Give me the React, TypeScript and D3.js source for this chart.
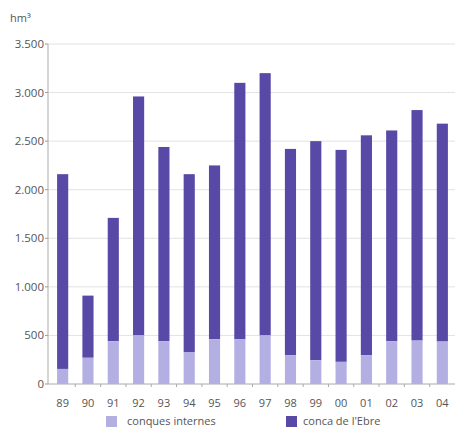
import * as d3 from "d3";

const years = ["89", "90", "91", "92", "93", "94", "95", "96", "97", "98", "99", "00", "01", "02", "03", "04"];
const internes = [155, 270, 440, 500, 440, 325, 460, 460, 500, 295, 245, 228, 295, 440, 447, 437];
const totals = [2160, 910, 1710, 2960, 2440, 2160, 2250, 3100, 3200, 2420, 2500, 2410, 2560, 2610, 2820, 2680];
const yTicks = [0, 500, 1000, 1500, 2000, 2500, 3000, 3500];

const W = 455;
const H = 435;
const LIGHT = "#b4afe3";
const DARK = "#5949a7";
const fmt = (v: number) => d3.format(",")(v).replace(/,/g, ".");

export default function App() {
  const x = d3.scaleBand<string>().domain(years).range([50, 455]).paddingInner(0.56).paddingOuter(0.28);
  const y = d3.scaleLinear().domain([0, 3500]).range([384, 44]);
  const font = "'Open Sans', 'DejaVu Sans', sans-serif";
  const step = x.step();

  return (
    <svg width={W} height={H} style={{ position: "absolute", left: 0, top: 0, background: "#fff" }} fontFamily={font}>
      <text x={10} y={22} fontSize={11} fill="#555">
        hm³
      </text>
      {yTicks.map((t) => (
        <g key={t}>
          {t > 0 && <line x1={48} x2={W} y1={y(t)} y2={y(t)} stroke="#e2e2e2" strokeWidth={1} />}
          <line x1={45} x2={48} y1={y(t)} y2={y(t)} stroke="#999" />
          <text x={44} y={y(t) + 4} textAnchor="end" fontSize={11.5} fill="#555">
            {fmt(t)}
          </text>
        </g>
      ))}
      <line x1={48} x2={48} y1={y(3500)} y2={y(0)} stroke="#aaa" />
      <line x1={48} x2={W} y1={y(0)} y2={y(0)} stroke="#aaa" />
      {years.map((yr, i) => {
        const bx = x(yr)!;
        const bw = x.bandwidth();
        return (
          <g key={yr}>
            <rect x={bx} y={y(totals[i])} width={bw} height={y(internes[i]) - y(totals[i])} fill={DARK} />
            <rect x={bx} y={y(internes[i])} width={bw} height={y(0) - y(internes[i])} fill={LIGHT} />
            {i > 0 && (
              <line
                x1={bx - (step - bw) / 2}
                x2={bx - (step - bw) / 2}
                y1={y(0)}
                y2={y(0) + 3}
                stroke="#aaa"
              />
            )}
            <text x={bx + bw / 2} y={y(0) + 23} textAnchor="middle" fontSize={11} fill="#555">
              {yr}
            </text>
          </g>
        );
      })}
      <rect x={106} y={416} width={11} height={11} fill={LIGHT} />
      <text x={127} y={425} fontSize={11} fill="#555">
        conques internes
      </text>
      <rect x={286} y={416} width={11} height={11} fill={DARK} />
      <text x={303} y={425} fontSize={11} fill="#555">
        conca de l'Ebre
      </text>
    </svg>
  );
}
